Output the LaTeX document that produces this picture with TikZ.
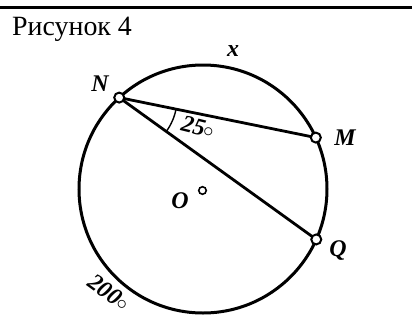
\documentclass[tikz,border=0pt]{standalone}
\usepackage{fontspec}
\setmainfont{Liberation Serif}
\usetikzlibrary{calc}
\tikzset{
  thick line/.style={line width=2.8bp, line cap=round},
  ptmark/.style={circle, draw, fill=white, line width=2bp, inner sep=0pt, minimum size=10bp},
  omark/.style={circle, draw, fill=white, line width=1.6bp, inner sep=0pt, minimum size=7.5bp},
  lab/.style={inner sep=0pt, font=\fontsize{24}{26}\selectfont\bfseries\itshape},
  title/.style={inner sep=0pt, font=\fontsize{28}{30}\selectfont},
}
\newcommand{\degmark}{\kern-0.05em\raisebox{0.02em}{\fontsize{20}{20}\selectfont\upshape\mdseries$\circ$}}
\begin{document}
\begin{tikzpicture}[x=1bp,y=-1bp]
\useasboundingbox (0,0) rectangle (412,321);
\coordinate (TL) at (0,7);
\coordinate (TR) at (412,7);
\draw[line width=3bp] (TL) -- (TR);
\node[title, anchor=base west] (T) at (12,35.5) {Рисунок 4};

\coordinate (O) at (203,189);
\coordinate (N) at ($(O)+(-132.5:124)$);
\coordinate (M) at ($(O)+(-24.5:124)$);
\coordinate (Q) at ($(O)+(24:124)$);

\draw[line width=3bp] (O) circle[radius=124];
\draw[thick line] (N) -- (M);
\draw[thick line] (N) -- (Q);
\draw[line width=1.4bp] (N) ++(11.5:58) arc[start angle=11.5, end angle=35.7, radius=58];

\node[ptmark] (Np) at (N) {};
\node[ptmark] (Mp) at (M) {};
\node[ptmark] (Qp) at (Q) {};
\node[omark] (Op) at (202.5,190.5) {};

\node[lab] (Nl) at (100,84) {N};
\node[lab] (Ml) at (345,138) {M};
\node[lab] (Ql) at (338,251) {Q};
\node[lab] (Ol) at (180,201) {O};
\node[lab] (xl) at (233,51) {x};
\node[lab, rotate=-14] (al) at (198,127) {25\degmark};
\node[lab, rotate=-36] (bl) at (109,292) {200\degmark};
\end{tikzpicture}
\end{document}
